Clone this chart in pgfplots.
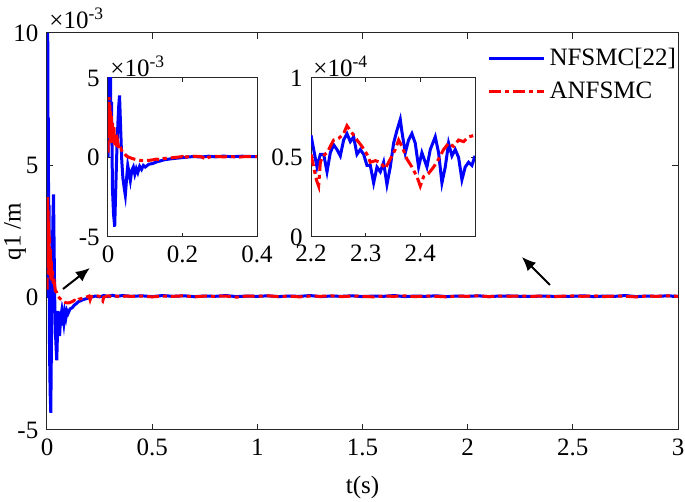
\documentclass[border=0pt]{standalone}
\usepackage{pgfplots}
\pgfplotsset{compat=1.18}
\usepackage{pgfplotstable}
\usepackage{fontspec}
\setmainfont{Liberation Serif}
\usetikzlibrary{arrows.meta}

\pgfplotstableread{
t v
0 0
0.002 6.5
0.0035 10
0.005 3
0.0065 6.8
0.008 1
0.0095 3.5
0.012 -2
0.015 -3.6
0.018 -4.35
0.021 -1.8
0.024 0.6
0.027 2.4
0.029 3.3
0.031 3.9
0.034 1.8
0.037 -0.2
0.040 -1.3
0.044 -2.0
0.0465 -2.37
0.050 -1.3
0.053 -0.5
0.056 -0.9
0.060 -1.45
0.064 -0.8
0.068 -0.6
0.072 -1.05
0.076 -0.7
0.080 -0.95
0.085 -0.55
0.090 -0.75
0.095 -0.5
0.10 -0.6
0.11 -0.42
0.12 -0.38
0.13 -0.28
0.14 -0.22
0.15 -0.15
0.17 -0.08
0.19 -0.03
0.21 0.02
0.23 0.06
0.25 0.03
0.27 0.08
0.29 0.04
0.31 0.09
0.33 0.05
0.36 0.08
0.40 0.05
0.45 0.07
0.50 0.04
0.55 0.08
0.60 0.05
0.65 0.07
0.70 0.04
0.75 0.06
0.80 0.05
0.85 0.08
0.90 0.04
0.95 0.06
1.00 0.05
1.05 0.07
1.10 0.04
1.15 0.06
1.20 0.05
1.25 0.08
1.30 0.04
1.35 0.06
1.40 0.05
1.45 0.07
1.50 0.04
1.55 0.06
1.60 0.05
1.65 0.08
1.70 0.04
1.75 0.06
1.80 0.05
1.85 0.07
1.90 0.04
1.95 0.06
2.00 0.05
2.05 0.07
2.10 0.04
2.15 0.06
2.20 0.064
2.25 0.051
2.30 0.045
2.35 0.059
2.40 0.053
2.45 0.044
2.50 0.051
2.55 0.07
2.60 0.04
2.65 0.06
2.70 0.05
2.75 0.08
2.80 0.04
2.85 0.06
2.90 0.05
2.95 0.07
3.00 0.05
}\blueMain

\pgfplotstableread{
t v
0 0.3
0.001 3.0
0.002 1.2
0.003 3.8
0.004 1.6
0.005 3.3
0.006 0.9
0.007 2.9
0.008 1.1
0.009 2.6
0.010 0.8
0.012 2.3
0.014 0.9
0.016 1.9
0.018 0.7
0.020 1.4
0.023 0.6
0.026 1.0
0.030 0.45
0.035 0.55
0.040 0.25
0.045 0.22
0.050 0.08
0.060 -0.02
0.070 -0.10
0.080 -0.16
0.090 -0.19
0.100 -0.20
0.110 -0.18
0.120 -0.15
0.130 -0.10
0.140 -0.14
0.150 -0.06
0.170 -0.02
0.190 0.03
0.200 0.06
0.205 -0.08
0.210 0.04
0.230 0.08
0.250 0.05
0.265 -0.12
0.270 0.02
0.290 0.07
0.31 0.04
0.33 0.06
0.35 0.02
0.37 0.06
0.40 0.05
0.45 0.06
0.50 0.03
0.55 0.06
0.60 0.05
0.65 0.07
0.70 0.03
0.75 0.06
0.80 0.05
0.85 0.06
0.90 0.02
0.95 0.06
1.00 0.05
1.05 0.07
1.10 0.04
1.15 0.06
1.20 0.03
1.25 0.06
1.30 0.05
1.35 0.07
1.40 0.04
1.45 0.06
1.50 0.05
1.55 0.03
1.60 0.06
1.65 0.05
1.70 0.07
1.75 0.04
1.80 0.06
1.85 0.05
1.90 0.03
1.95 0.06
2.00 0.05
2.05 0.07
2.10 0.04
2.15 0.06
2.20 0.052
2.25 0.062
2.30 0.052
2.35 0.055
2.40 0.032
2.45 0.055
2.50 0.064
2.55 0.05
2.60 0.07
2.65 0.04
2.70 0.06
2.75 0.05
2.80 0.03
2.85 0.06
2.90 0.05
2.95 0.07
3.00 0.05
}\redMain

\pgfplotstableread{
t v
2.2000 0.64
2.2049 0.55
2.2110 0.44
2.2171 0.52
2.2232 0.52
2.2293 0.41
2.2353 0.53
2.2414 0.58
2.2475 0.55
2.2536 0.51
2.2597 0.61
2.2658 0.65
2.2719 0.60
2.2780 0.63
2.2841 0.52
2.2902 0.55
2.2963 0.52
2.3024 0.45
2.3085 0.45
2.3146 0.34
2.3207 0.44
2.3268 0.41
2.3328 0.47
2.3389 0.33
2.3450 0.44
2.3511 0.59
2.3572 0.67
2.3633 0.74
2.3664 0.66
2.3725 0.53
2.3785 0.61
2.3846 0.65
2.3907 0.59
2.3968 0.44
2.4029 0.53
2.4121 0.44
2.4182 0.55
2.4273 0.63
2.4334 0.53
2.4395 0.34
2.4456 0.44
2.4517 0.59
2.4578 0.51
2.4639 0.55
2.4700 0.50
2.4761 0.36
2.4821 0.44
2.4882 0.47
2.4943 0.45
2.5000 0.51
}\blueZoom

\pgfplotstableread{
t v
2.2000 0.52
2.2049 0.44
2.2098 0.36
2.2140 0.32
2.2171 0.47
2.2219 0.51
2.2293 0.53
2.2353 0.57
2.2414 0.61
2.2506 0.62
2.2597 0.65
2.2658 0.70
2.2719 0.67
2.2780 0.64
2.2841 0.61
2.2932 0.57
2.3024 0.52
2.3085 0.47
2.3176 0.48
2.3268 0.47
2.3359 0.43
2.3450 0.49
2.3542 0.55
2.3603 0.61
2.3664 0.57
2.3755 0.49
2.3846 0.44
2.3938 0.38
2.3999 0.32
2.4060 0.38
2.4151 0.40
2.4243 0.44
2.4334 0.49
2.4425 0.55
2.4517 0.59
2.4608 0.57
2.4700 0.61
2.4791 0.60
2.4882 0.63
2.5000 0.64
}\redZoom

\definecolor{axgray}{gray}{0.15}
\tikzset{
  bluestyle/.style={color=blue, line width=1.5pt},
  redstyle/.style={color=red, line width=1.5pt, dash pattern=on 6pt off 2pt on 2pt off 2pt},
}
\pgfplotsset{
  mystyle/.style={
    scale only axis,
    axis line style={axgray, line width=0.5pt},
    every tick/.style={axgray, line width=0.5pt},
    tick label style={text=black},
    tick align=inside,
    clip=true,
  }
}

\begin{document}
\fontsize{12.5}{15}\selectfont
\begin{tikzpicture}
\useasboundingbox (-23.5pt,-36pt) rectangle (319pt,215pt);
% main axis
\begin{axis}[mystyle,
  at={(0pt,0pt)}, anchor=south west,
  width=315.5pt, height=198.5pt,
  xmin=0, xmax=3, ymin=-5, ymax=10,
  xtick={0,0.5,1,1.5,2,2.5,3},
  xticklabels={0,0.5,1,1.5,2,2.5,3},
  ytick={-5,0,5,10},
  yticklabels={-5,0,5,10},
  major tick length=3pt,
  xlabel={t(s)},
  ylabel={q1 /m},
  every axis x label/.style={at={(axis description cs:0.5,-0.146)}, anchor=center},
  every axis y label/.style={at={(axis description cs:-0.0507,0.5)}, rotate=90, anchor=center},
  legend style={draw=none, fill=none, at={(0.688,0.983)}, anchor=north west,
    font=\fontsize{12.5}{15}\selectfont, row sep=2.2pt,
    /tikz/every even column/.append style={column sep=0pt}},
  legend cell align=left,
  legend image code/.code={\draw[#1] (0pt,0pt) -- (27.5pt,0pt);},
]
\addplot[bluestyle] table[x=t,y=v] {\blueMain};
\addlegendentry{NFSMC[22]}
\addplot[redstyle] table[x=t,y=v] {\redMain};
\addlegendentry{ANFSMC}
\draw[-{Latex[length=7pt,width=6pt]}, line width=1pt, black] (axis cs:0.076,0.327) -- (axis cs:0.204,1.121);
\draw[-{Latex[length=7pt,width=6pt]}, line width=1pt, black] (axis cs:2.391,0.479) -- (axis cs:2.258,1.536);
\end{axis}
\node[anchor=south west, inner sep=0pt] at (1pt,200.5pt) {×10\textsuperscript{-3}};

% left inset
\begin{axis}[mystyle,
  at={(30.5pt,96.5pt)}, anchor=south west,
  width=74.5pt, height=79.5pt,
  axis background/.style={fill=white},
  xmin=0, xmax=0.4, ymin=-5, ymax=5,
  xtick={0,0.2,0.4}, xticklabels={0,0.2,0.4},
  ytick={-5,0,5}, yticklabels={-5,0,5},
  xticklabel style={inner sep=1pt, yshift=-3pt},
  yticklabel style={inner sep=1pt, xshift=-3pt},
  major tick length=1.8pt,
]
\addplot[bluestyle] table[x=t,y=v] {\blueMain};
\addplot[redstyle] table[x=t,y=v] {\redMain};
\end{axis}
\node[anchor=south west, inner sep=0pt] at (31.5pt,176.5pt) {×10\textsuperscript{-3}};

% right inset
\begin{axis}[mystyle,
  at={(132pt,96.5pt)}, anchor=south west,
  width=82pt, height=79.5pt,
  axis background/.style={fill=white},
  xmin=2.2, xmax=2.5, ymin=0, ymax=1,
  xtick={2.2,2.3,2.4}, xticklabels={2.2,2.3,2.4},
  ytick={0,0.5,1}, yticklabels={0,0.5,1},
  xticklabel style={inner sep=1pt, yshift=-3pt},
  yticklabel style={inner sep=1pt, xshift=-3pt},
  major tick length=1.8pt,
]
\addplot[bluestyle] table[x=t,y=v] {\blueZoom};
\addplot[redstyle] table[x=t,y=v] {\redZoom};
\end{axis}
\node[anchor=south west, inner sep=0pt] at (133pt,176.5pt) {×10\textsuperscript{-4}};
\end{tikzpicture}
\end{document}
